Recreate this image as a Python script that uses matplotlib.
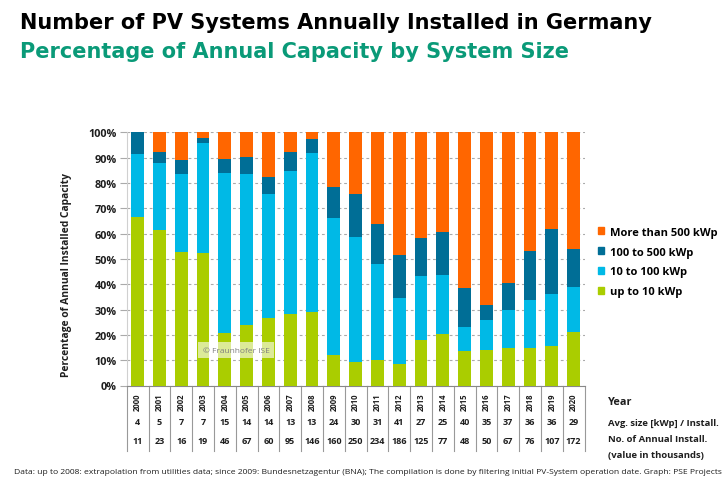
import matplotlib
matplotlib.use("Agg")
import matplotlib.pyplot as plt
from matplotlib.patches import Patch
from matplotlib.transforms import blended_transform_factory
import numpy as np

plt.rcParams['font.family'] = ['Open Sans', 'DejaVu Sans']

years = [str(y) for y in range(2000, 2021)]
# cumulative tops (percent)
up_to_10 = [66.7, 61.4, 52.9, 52.2, 20.9, 23.7, 26.7, 28.3, 29.2, 12.2, 9.1,
            10.1, 8.6, 17.9, 20.3, 13.6, 14.1, 15.0, 14.9, 15.7, 21.3]
top_10_100 = [91.4, 87.9, 83.4, 95.9, 83.9, 83.4, 75.7, 84.6, 91.7, 66.3, 58.7,
              48.0, 34.6, 43.3, 43.7, 23.3, 25.9, 29.9, 33.7, 36.1, 38.8]
top_100_500 = [100.0, 92.1, 89.1, 97.9, 89.6, 90.4, 82.2, 92.1, 97.4, 78.2, 75.5,
               63.7, 51.4, 58.4, 60.5, 38.4, 31.8, 40.4, 53.3, 61.8, 53.8]
avg_size = [4, 5, 7, 7, 15, 14, 14, 13, 13, 24, 30, 31, 41, 27, 25, 40, 35, 37, 36, 36, 29]
n_install = [11, 23, 16, 19, 46, 67, 60, 95, 146, 160, 250, 234, 186, 125, 77, 48, 50, 67, 76, 107, 172]

s_small = np.array(up_to_10)
s_mid = np.array(top_10_100) - s_small
s_large = np.array(top_100_500) - np.array(top_10_100)
s_xl = 100.0 - np.array(top_100_500)

c_green = '#AACD00'
c_lblue = '#00B9E6'
c_dblue = '#006E96'
c_orange = '#FF6600'
c_title = '#0A9A78'
c_text = '#1E1E1E'

W, H = 728, 489
fig = plt.figure(figsize=(W / 100, H / 100), dpi=100)
ax_l, ax_r, ax_t, ax_b = 126.7, 584.5, 133.3, 386.5
ax = fig.add_axes([ax_l / W, 1 - ax_b / H, (ax_r - ax_l) / W, (ax_b - ax_t) / H])

x = np.arange(len(years))
bw = 0.58
ax.bar(x, s_small, bw, color=c_green, zorder=3)
ax.bar(x, s_mid, bw, bottom=s_small, color=c_lblue, zorder=3)
ax.bar(x, s_large, bw, bottom=s_small + s_mid, color=c_dblue, zorder=3)
ax.bar(x, s_xl, bw, bottom=s_small + s_mid + s_large, color=c_orange, zorder=3)

ax.set_xlim(-0.5, len(years) - 0.5)
ax.set_ylim(0, 100)
ax.set_yticks(np.arange(0, 101, 10))
ax.set_yticklabels([f'{v}%' for v in range(0, 101, 10)], fontsize=7.8,
                   fontweight='bold', color=c_text)
ax.tick_params(axis='y', length=5, color='#AAAAAA', pad=2)
ax.set_xticks([])
ax.grid(axis='y', color='#AAAAAA', linestyle=(0, (2.5, 2.5)), linewidth=0.8, zorder=0)
ax.set_axisbelow(True)
for s in ['top', 'right']:
    ax.spines[s].set_visible(False)
ax.spines['left'].set_color('#D0D0D0')
ax.spines['left'].set_linewidth(0.8)
ax.spines['bottom'].set_color('#888888')
ax.spines['bottom'].set_linewidth(0.8)

ax.set_ylabel('Percentage of Annual Installed Capacity', fontsize=7.4,
              fontweight='bold', color=c_text, labelpad=9)
ax.yaxis.set_label_coords(-0.12, 0.44)

# watermark
ax.text(0.239, 0.14, '© Fraunhofer ISE', transform=ax.transAxes, fontsize=6,
        color='#808080', ha='center', va='center', zorder=5,
        bbox=dict(facecolor='white', alpha=0.6, edgecolor='none', pad=3.5))

# table below the axis
tr = blended_transform_factory(ax.transData, ax.transAxes)
ah = ax_b - ax_t
def ya(py):
    return (ax_b - py) / ah
tb = ya(452)
for k in range(len(years) + 1):
    ax.plot([k - 0.5, k - 0.5], [0, tb], color='#999999', lw=0.8,
            transform=tr, clip_on=False)
for i, yr in enumerate(years):
    ax.text(i, ya(402), yr, transform=tr, rotation=90, ha='center', va='center',
            fontsize=5.6, fontweight='bold', color=c_text)
    ax.text(i, ya(423), str(avg_size[i]), transform=tr, ha='center', va='center',
            fontsize=6.5, fontweight='bold', color=c_text)
    ax.text(i, ya(442), str(n_install[i]), transform=tr, ha='center', va='center',
            fontsize=6.5, fontweight='bold', color=c_text)

fx = 608 / W
fig.text(fx, 1 - 403 / H, 'Year', fontsize=7.8, fontweight='bold', color=c_text, va='center')
fig.text(fx, 1 - 423 / H, 'Avg. size [kWp] / Install.', fontsize=6.8, fontweight='bold',
         color=c_text, va='center')
fig.text(fx, 1 - 440 / H, 'No. of Annual Install.', fontsize=6.8, fontweight='bold',
         color=c_text, va='center')
fig.text(fx, 1 - 456 / H, '(value in thousands)', fontsize=6.8, fontweight='bold',
         color=c_text, va='center')

# legend
handles = [Patch(color=c_orange, label='More than 500 kWp'),
           Patch(color=c_dblue, label='100 to 500 kWp'),
           Patch(color=c_lblue, label='10 to 100 kWp'),
           Patch(color=c_green, label='up to 10 kWp')]
fig.legend(handles=handles, loc='center left', bbox_to_anchor=(598 / W, 1 - 263 / H),
           frameon=False, prop={'weight': 'bold', 'size': 8},
           handlelength=0.55, handleheight=0.55, handletextpad=0.5,
           labelspacing=0.8, borderpad=0, borderaxespad=0)

# titles
tfont = ['DejaVu Sans']
fig.text(20 / W, 1 - 29 / H, 'Number of PV Systems Annually Installed in Germany',
         fontsize=15, fontweight='bold', color='black', va='baseline', family=tfont)
fig.text(20 / W, 1 - 58 / H, 'Percentage of Annual Capacity by System Size',
         fontsize=15, fontweight='bold', color=c_title, va='baseline', family=tfont)

# footnote
fig.text(14 / W, 1 - 472 / H,
         'Data: up to 2008: extrapolation from utilities data; since 2009: Bundesnetzagentur (BNA); '
         'The compilation is done by filtering initial PV-System operation date. Graph: PSE Projects',
         fontsize=6.1, color=c_text, va='center')

fig.savefig('out.png', dpi=100)
